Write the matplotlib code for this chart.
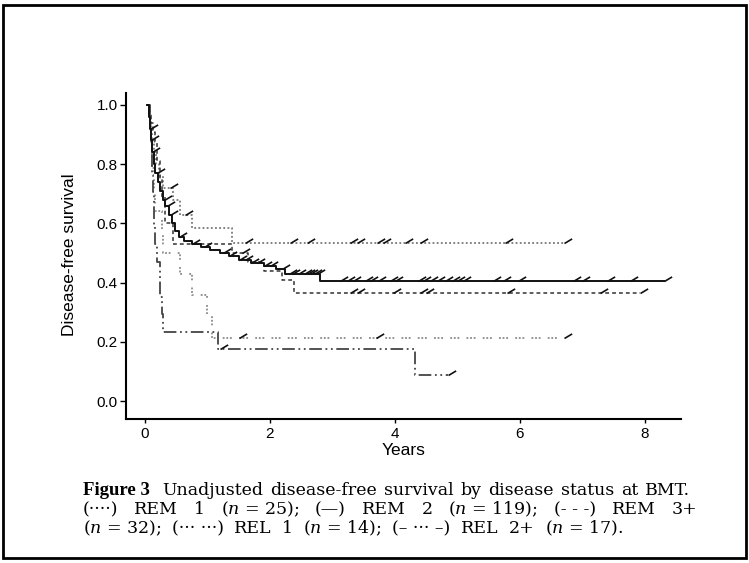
import numpy as np
import matplotlib
matplotlib.use("Agg")
import matplotlib.pyplot as plt
from matplotlib.path import Path
from matplotlib.patches import Rectangle

# --- data (years, survival) ---
rem1_t = [0.04, 0.08, 0.10, 0.12, 0.15, 0.18, 0.22, 0.29, 0.45, 0.56, 0.75, 1.39]
rem1_s = [1.0, 0.96, 0.92, 0.88, 0.84, 0.80, 0.76, 0.72, 0.68, 0.63, 0.585, 0.535]
rem1_end = 6.7
rem1_cens = [0.40, 0.65, 1.6, 2.32, 2.59, 3.28, 3.39, 3.71, 3.81, 4.16, 4.4, 5.76, 6.7]

rem2_t = [0.04, 0.06, 0.08, 0.10, 0.12, 0.14, 0.17, 0.21, 0.25, 0.29, 0.33, 0.38, 0.43,
          0.48, 0.55, 0.63, 0.75, 0.90, 1.05, 1.20, 1.35, 1.50, 1.70, 1.90, 2.10, 2.25, 2.80]
rem2_s = [1.0, 0.96, 0.92, 0.88, 0.84, 0.80, 0.77, 0.74, 0.71, 0.68, 0.66, 0.63, 0.60,
          0.575, 0.555, 0.54, 0.53, 0.52, 0.51, 0.50, 0.49, 0.475, 0.465, 0.455, 0.445, 0.43, 0.405]
rem2_end = 8.3
rem2_cens = [0.08, 0.10, 0.12, 0.20, 0.30, 0.36, 0.40, 0.55, 0.75, 0.95, 1.25, 1.35, 1.5,
             1.6, 1.7, 1.8, 1.9, 2.0, 2.2, 2.3, 2.35, 2.45, 2.55, 2.6, 2.65, 2.7, 2.75,
             3.12, 3.23, 3.33, 3.52, 3.6, 3.73, 3.92, 4.0, 4.37, 4.45, 4.56, 4.67, 4.8,
             4.91, 5.0, 5.1, 5.57, 5.73, 5.97, 6.85, 7.0, 7.39, 7.76, 8.3]

rem3_t = [0.04, 0.07, 0.10, 0.13, 0.16, 0.20, 0.24, 0.28, 0.33, 0.45, 1.40, 1.65, 1.90, 2.20, 2.38]
rem3_s = [1.0, 0.97, 0.94, 0.91, 0.875, 0.81, 0.75, 0.69, 0.60, 0.53, 0.50, 0.47, 0.44, 0.41, 0.365]
rem3_end = 7.92
rem3_cens = [1.55, 3.28, 3.39, 3.97, 4.4, 4.5, 5.79, 7.28, 7.92]

rel1_t = [0.04, 0.08, 0.10, 0.12, 0.14, 0.17, 0.28, 0.29, 0.56, 0.75, 1.00, 1.07]
rel1_s = [1.0, 0.929, 0.857, 0.786, 0.714, 0.643, 0.571, 0.50, 0.429, 0.357, 0.286, 0.214]
rel1_end = 6.7
rel1_cens = [1.5, 3.7, 6.7]

rel2_t = [0.04, 0.08, 0.10, 0.11, 0.12, 0.13, 0.14, 0.15, 0.17, 0.19, 0.24, 0.25, 0.27, 0.29, 1.17, 4.32]
rel2_s = [1.0, 0.941, 0.882, 0.824, 0.765, 0.706, 0.647, 0.588, 0.529, 0.471, 0.412, 0.353,
          0.294, 0.235, 0.176, 0.088]
rel2_end = 4.85
rel2_cens = [1.2, 4.85]

y_ticks = [0.0, 0.2, 0.4, 0.6, 0.8, 1.0]
x_ticks = [0, 2, 4, 6, 8]

serif = 'DejaVu Serif'
plt.rcParams['mathtext.fontset'] = 'custom'
plt.rcParams['mathtext.it'] = 'DejaVu Serif:italic'
plt.rcParams['mathtext.rm'] = 'DejaVu Serif'

fig = plt.figure(figsize=(7.49, 5.63), dpi=100)
ax = fig.add_axes([126 / 749, 1 - 419 / 563, (681 - 126) / 749, (419 - 93) / 563])

# slanted censor tick, drawn from the point up and to the right
slash = Path([(0, 0), (1, 0.6)], [Path.MOVETO, Path.LINETO])


def surv_at(t, s, x):
    i = np.searchsorted(t, x, side='right') - 1
    return np.array(s)[np.clip(i, 0, len(s) - 1)]


curves = [
    (rem1_t, rem1_s, rem1_end, rem1_cens, '#777777', (0, (1, 1.3)), 1.3),
    (rem3_t, rem3_s, rem3_end, rem3_cens, '#333333', (0, (2.5, 2)), 1.1),
    (rel1_t, rel1_s, rel1_end, rel1_cens, '#8a8a8a', (0, (1, 1, 1, 1, 1, 4)), 1.3),
    (rel2_t, rel2_s, rel2_end, rel2_cens, '#444444', (0, (7, 2, 1, 2, 1, 2)), 1.3),
    (rem2_t, rem2_s, rem2_end, rem2_cens, '#111111', '-', 1.4),
]

for t, s, end, cens, col, ls, lw in curves:
    ax.step(list(t) + [end], list(s) + [s[-1]], where='post', color=col, ls=ls, lw=lw)
    cy = surv_at(t, s, np.array(cens))
    ax.plot(cens, cy, ls='none', marker=slash, ms=11, mew=1.2, color='#111111')

ax.set_xlim(-0.3, 8.58)
ax.set_ylim(-0.06, 1.04)
ax.set_xticks(x_ticks)
ax.set_yticks(y_ticks)
ax.set_xticklabels([str(v) for v in x_ticks])
ax.set_yticklabels(['%.1f' % v for v in y_ticks])
for side in ['top', 'right']:
    ax.spines[side].set_visible(False)
ax.spines['left'].set_linewidth(1.5)
ax.spines['bottom'].set_linewidth(1.5)
ax.tick_params(axis='y', direction='out', length=4, width=1, labelsize=11, pad=2)
ax.tick_params(axis='x', direction='out', length=3, width=1, labelsize=11, pad=3)
for lab in ax.get_xticklabels() + ax.get_yticklabels():
    lab.set_family('Liberation Sans')

ax.set_xlabel('Years', fontsize=12.5, family='Liberation Sans', labelpad=1)
fig.text(70 / 749, 1 - 255 / 563, 'Disease-free survival', rotation=90, ha='center', va='center',
         fontsize=12.5, family='Liberation Sans')

# caption
cap_size = 12.5
y1, y2, y3 = 1 - 495 / 563, 1 - 514 / 563, 1 - 533 / 563
fig.text(83 / 749, y1, 'Figure 3', fontsize=13.5, family='Liberation Serif', weight='bold',
         va='baseline')

fig.canvas.draw()
renderer = fig.canvas.get_renderer()


def justified(tokens, x0, x1, y):
    # place words so the line spans x0..x1 (pixels)
    items = [fig.text(0, y, tok, fontsize=cap_size, family=serif, va='baseline') for tok in tokens]
    widths = [it.get_window_extent(renderer).width for it in items]
    gap = (x1 - x0 - sum(widths)) / (len(tokens) - 1)
    x = x0
    for it, w in zip(items, widths):
        it.set_x(x / 749)
        x += w + gap


justified('Unadjusted disease-free survival by disease status at BMT.'.split(), 162, 690, y1)
justified(['(····)', 'REM', '1', '($n$ = 25);', '(—)', 'REM', '2', '($n$ = 119);',
           '(- - -)', 'REM', '3+'], 83, 697, y2)
justified(['($n$ = 32);', '(··· ···)', 'REL', '1', '($n$ = 14);', '(– ··· –)', 'REL', '2+',
           '($n$ = 17).'], 83, 623, y3)

# frame round the whole picture
fig.patches.append(Rectangle((2.5 / 749, 1 - 558 / 563), (746 - 2.5) / 749, (558 - 4.5) / 563,
                             transform=fig.transFigure, fill=False, lw=2, ec='black'))

fig.savefig('out.png', dpi=100)
